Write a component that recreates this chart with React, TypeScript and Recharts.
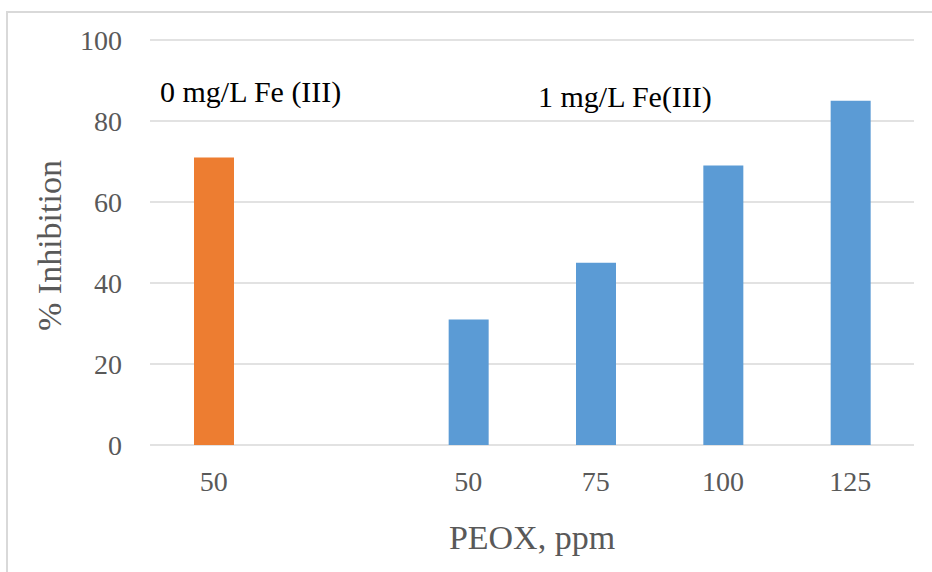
import { BarChart, Bar, XAxis, YAxis, CartesianGrid, Cell, Label } from "recharts";

// categories along the x axis (the blank one separates the two Fe(III) groups)
const categories = ["a", "gap", "b", "c", "d", "e"];
const tickLabels = ["50", "", "50", "75", "100", "125"];
const inhibition = [71, null, 31, 45, 69, 85];
const ironDose = ["0", "", "1", "1", "1", "1"];
const yTicks = [0, 20, 40, 60, 80, 100];

const COLORS: Record<string, string> = { "0": "#ED7D31", "1": "#5B9BD5" };

const data = categories.map((c, i) => ({
  cat: c,
  label: tickLabels[i],
  value: inhibition[i],
  dose: ironDose[i],
}));

const FONT = "'Liberation Serif', 'Times New Roman', serif";

const YTitle = (props: any) => {
  const vb = props.viewBox || {};
  const x = (vb.x ?? 0) + 49;
  const y = (vb.y ?? 0) + (vb.height ?? 0) / 2 + 3;
  return (
    <text
      x={x}
      y={y}
      transform={`rotate(-90 ${x} ${y})`}
      textAnchor="middle"
      dominantBaseline="central"
      fill="#595959"
      fontSize={34}
      fontFamily={FONT}
    >
      % Inhibition
    </text>
  );
};

const noteStyle = {
  position: "absolute" as const,
  fontFamily: FONT,
  fontSize: 30,
  lineHeight: "30px",
  color: "#000",
  whiteSpace: "nowrap" as const,
};

export default function App() {
  return (
    <div
      style={{
        position: "absolute",
        left: 0,
        top: 0,
        width: 932,
        height: 572,
        background: "#fff",
        fontFamily: FONT,
        overflow: "hidden",
      }}
    >
      <div
        style={{
          position: "absolute",
          left: 6,
          top: 11,
          width: 940,
          height: 600,
          borderTop: "2px solid #d9d9d9",
          borderLeft: "2px solid #d9d9d9",
        }}
      />
      <BarChart
        width={932}
        height={572}
        data={data}
        margin={{ top: 40, right: 18, bottom: 67, left: 0 }}
        barSize={40}
      >
        <CartesianGrid vertical={false} stroke="#d9d9d9" strokeWidth={1.5} />
        <XAxis
          dataKey="cat"
          tickFormatter={(_v: string, i: number) => tickLabels[i]}
          axisLine={false}
          tickLine={false}
          height={60}
          tickMargin={20}
          tick={{ fontSize: 28, fill: "#595959", fontFamily: FONT }}
          interval={0}
        >
          <Label
            value="PEOX, ppm"
            position="bottom"
            offset={20}
            style={{ fontSize: 34, fill: "#595959", fontFamily: FONT }}
          />
        </XAxis>
        <YAxis
          width={150}
          domain={[0, 100]}
          ticks={yTicks}
          axisLine={false}
          tickLine={false}
          tickMargin={22}
          tick={{ fontSize: 28, fill: "#595959", fontFamily: FONT }}
        >
          <Label content={YTitle} />
        </YAxis>
        <Bar dataKey="value" isAnimationActive={false}>
          {data.map((d, i) => (
            <Cell key={i} fill={COLORS[d.dose] || "#5B9BD5"} />
          ))}
        </Bar>
      </BarChart>
      <div style={{ ...noteStyle, left: 160, top: 77 }}>0 mg/L Fe (III)</div>
      <div style={{ ...noteStyle, left: 538, top: 82 }}>1 mg/L Fe(III)</div>
    </div>
  );
}
